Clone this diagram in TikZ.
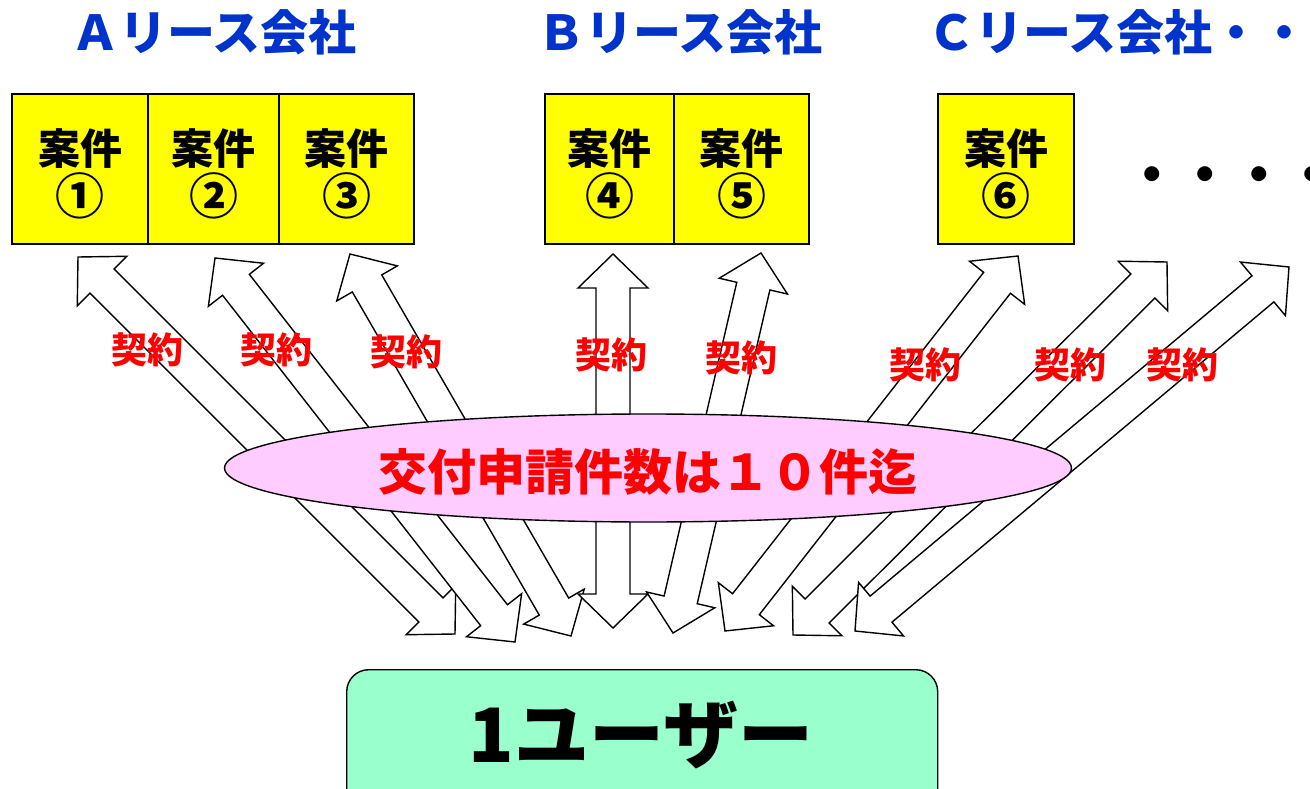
\documentclass[tikz,border=0pt]{standalone}
\usepackage{fontspec}
\newfontfamily\jp{Noto Sans CJK JP}[UprightFont=* Black]
\usetikzlibrary{calc,shapes.geometric}
\definecolor{boxyellow}{HTML}{FFFF00}
\definecolor{elpink}{HTML}{FFCCFF}
\definecolor{usergreen}{HTML}{99FFCC}
\definecolor{headblue}{HTML}{0033CC}
\definecolor{txtred}{HTML}{FF0000}
\newcommand\fsz[2]{\fontsize{#1}{#2}\selectfont}
\newcommand\casetext[1]{\rule{0pt}{45pt}案件\\{\fsz{49}{50}#1}}
\tikzset{
  blockarrow/.style={draw=black, fill=white, line width=1.4pt, line join=miter},
  casebox/.style={draw=black, fill=boxyellow, line width=1.4pt, minimum height=150pt, inner sep=0pt, align=center, font=\jp\fsz{42}{50}},
  heading/.style={text=headblue, font=\jp\fsz{48}{48}, inner sep=0pt},
  keiyaku/.style={text=txtred, font=\jp\fsz{36}{36}, inner sep=0pt},
}
\newcommand\dblarrow[2]{%
 \draw[blockarrow] (#1)
  -- ($(#1)!34pt!(#2)!35pt!90:(#2)$)
  -- ($(#1)!34pt!(#2)!17pt!90:(#2)$)
  -- ($(#2)!34pt!(#1)!17pt!-90:(#1)$)
  -- ($(#2)!34pt!(#1)!35pt!-90:(#1)$)
  -- (#2)
  -- ($(#2)!34pt!(#1)!35pt!90:(#1)$)
  -- ($(#2)!34pt!(#1)!17pt!90:(#1)$)
  -- ($(#1)!34pt!(#2)!17pt!-90:(#2)$)
  -- ($(#1)!34pt!(#2)!35pt!-90:(#2)$)
  -- cycle;}
\begin{document}
\begin{tikzpicture}[x=1pt,y=-1pt]
\useasboundingbox (0,0) rectangle (1310,789);
\clip (0,0) rectangle (1310,789);
% arrow end points
\coordinate (a1t) at (78,257);   \coordinate (a1b) at (455,634);
\coordinate (a2t) at (215,258);  \coordinate (a2b) at (515,642);
\coordinate (a3t) at (350,254);  \coordinate (a3b) at (571,636);
\coordinate (a4t) at (613,254);  \coordinate (a4b) at (613,628);
\coordinate (a5t) at (761,253);  \coordinate (a5b) at (673,633);
\coordinate (a6t) at (1018,256); \coordinate (a6b) at (725,631);
\coordinate (a7t) at (1167,262); \coordinate (a7b) at (793,635);
\coordinate (a8t) at (1289,267); \coordinate (a8b) at (855,631);
\dblarrow{a1t}{a1b}
\dblarrow{a2t}{a2b}
\dblarrow{a3t}{a3b}
\dblarrow{a4t}{a4b}
\dblarrow{a5t}{a5b}
\dblarrow{a6t}{a6b}
\dblarrow{a7t}{a7b}
\dblarrow{a8t}{a8b}
% ellipse
\node[ellipse, draw=black, fill=elpink, line width=1.4pt, minimum width=847pt, minimum height=108pt, inner sep=0pt] (el) at (648,468) {};
\node[text=txtred, font=\jp\fsz{49}{49}, inner sep=0pt] (eltext) at (648,472) {交付申請件数は１０件迄};
% contract labels
\node[keiyaku] (k1) at (147,350) {契約};
\node[keiyaku] (k2) at (276,350) {契約};
\node[keiyaku] (k3) at (406,352) {契約};
\node[keiyaku] (k4) at (611,355) {契約};
\node[keiyaku] (k5) at (741,358) {契約};
\node[keiyaku] (k6) at (925,365) {契約};
\node[keiyaku] (k7) at (1070,365) {契約};
\node[keiyaku] (k8) at (1182,365) {契約};
% headings
\node[heading] (hA) at (214,32) {Ａリース会社};
\node[heading] (hB) at (680,32) {Ｂリース会社};
\node[heading] (hC) at (1118,32) {Ｃリース会社・・};
% case boxes
\node[casebox, minimum width=136pt] (b1) at (80,169) {\casetext{①}};
\node[casebox, minimum width=131pt] (b2) at (213.5,169) {\casetext{②}};
\node[casebox, minimum width=135pt] (b3) at (346.5,169) {\casetext{③}};
\node[casebox, minimum width=129pt] (b4) at (609.5,169) {\casetext{④}};
\node[casebox, minimum width=135pt] (b5) at (741.5,169) {\casetext{⑤}};
\node[casebox, minimum width=136pt] (b6) at (1006,169) {\casetext{⑥}};
\node[font=\jp\fsz{53.5}{53.5}, inner sep=0pt] (dots) at (1232,181) {・・・・};
% user box
\node[draw=black, fill=usergreen, line width=1.4pt, rounded corners=22pt, minimum width=591pt, minimum height=160pt, inner sep=0pt, anchor=north west] (user) at (346,669) {};
\node[font=\jp\fsz{75}{75}, inner sep=0pt] (usertext) at (641,735) {1ユーザー};
\end{tikzpicture}
\end{document}
